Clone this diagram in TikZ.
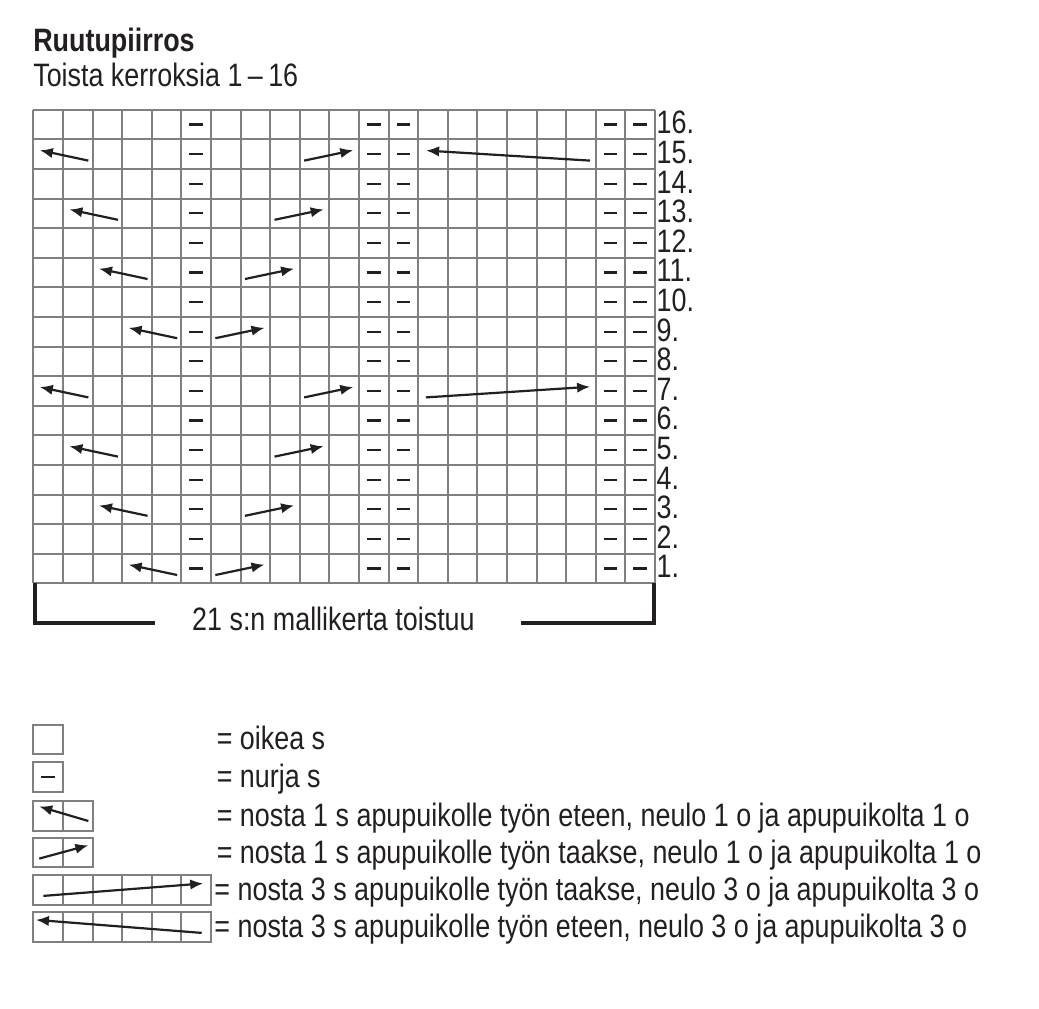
\documentclass[tikz,border=0pt]{standalone}
\usepackage{fontspec}
\setmainfont{Liberation Sans}[FakeStretch=0.83]
\usetikzlibrary{arrows.meta}
\definecolor{gridGray}{HTML}{808080}
\definecolor{inkDark}{HTML}{231F20}

\begin{document}
\begin{tikzpicture}[
    x=14.8pt, y=14.8pt,
    every node/.style={inner sep=0pt, outer sep=0pt, text=inkDark,
                       font=\fontsize{16.2}{18}\selectfont},
    gridline/.style={draw=gridGray, line width=1pt},
    purl/.style={draw=inkDark, line width=1.1pt},
    cable/.style={draw=inkDark, line width=1.1pt,
                  -{Latex[length=6.5pt, width=5.2pt]}},
    bracket/.style={draw=inkDark, line width=2pt},
    rownum/.style={anchor=base west},
    legtxt/.style={anchor=base west},
  ]
  \useasboundingbox (-1.125,-14.348) rectangle (33.976,19.706);

  % heading
  \node[anchor=base west, font=\fontsize{16.2}{18}\selectfont\bfseries]
    (title) at (0,17.95) {Ruutupiirros};
  \node[anchor=base west] (subtitle) at (0,16.8) {Toista kerroksia 1\,--\,16};

  % chart
  \draw[gridline, step=1] (0,0) grid (21,16);
  \foreach \r in {1,...,16} {
    \foreach \c in {6,12,13,20,21}
      \draw[purl] (\c-0.73,\r-0.5) -- (\c-0.27,\r-0.5);
    \node[rownum] (row\r) at (21.06,\r-0.82) {\r.};
  }
  \foreach \a/\b/\y in {1/10/14, 2/9/12, 3/8/10, 4/7/8, 1/10/6, 2/9/4, 3/8/2, 4/7/0} {
    \draw[cable] (\a+0.86,\y+0.28) -- (\a-0.78,\y+0.63);
    \draw[cable] (\b-0.85,\y+0.28) -- (\b+0.81,\y+0.63);
  }
  \draw[cable] (18.81,14.28) -- (13.27,14.62);
  \draw[cable] (13.26,6.28) -- (18.81,6.64);

  % repeat bracket
  \node[anchor=base] (repeat) at (10.14,-1.61) {21 s:n mallikerta toistuu};
  \draw[bracket] (0.06,0) -- (0.06,-1.33) -- (4.12,-1.33);
  \draw[bracket] (16.48,-1.33) -- (20.97,-1.33) -- (20.97,0);

  % legend
  \draw[gridline] (0,-5.77) rectangle (1,-4.77);
  \node[legtxt] (knit) at (6.2,-5.63) {= oikea s};

  \draw[gridline] (0,-7.04) rectangle (1,-6.04);
  \draw[purl] (0.27,-6.54) -- (0.73,-6.54);
  \node[legtxt] (purlkey) at (6.2,-6.90) {= nurja s};

  \draw[gridline] (0,-8.37) rectangle (2,-7.37) (1,-8.37) -- (1,-7.37);
  \draw[cable] (1.86,-8.03) -- (0.2,-7.54);
  \node[legtxt] (frontone) at (6.2,-8.23)
    {= nosta 1 s apupuikolle työn eteen, neulo 1 o ja apupuikolta 1 o};

  \draw[gridline] (0,-9.60) rectangle (2,-8.60) (1,-9.60) -- (1,-8.60);
  \draw[cable] (0.2,-9.30) -- (1.86,-8.85);
  \node[legtxt] (backone) at (6.2,-9.46)
    {= nosta 1 s apupuikolle työn taakse, neulo 1 o ja apupuikolta 1 o};

  \draw[gridline] (0,-10.86) rectangle (6,-9.86);
  \foreach \c in {1,...,5}
    \draw[gridline] (\c,-10.86) -- (\c,-9.86);
  \draw[cable] (0.34,-10.56) -- (5.74,-10.14);
  \node[legtxt] (backthree) at (6.12,-10.72)
    {= nosta 3 s apupuikolle työn taakse, neulo 3 o ja apupuikolta 3 o};

  \draw[gridline] (0,-12.11) rectangle (6,-11.11);
  \foreach \c in {1,...,5}
    \draw[gridline] (\c,-12.11) -- (\c,-11.11);
  \draw[cable] (5.69,-11.81) -- (0.09,-11.37);
  \node[legtxt] (frontthree) at (6.12,-11.97)
    {= nosta 3 s apupuikolle työn eteen, neulo 3 o ja apupuikolta 3 o};
\end{tikzpicture}
\end{document}
